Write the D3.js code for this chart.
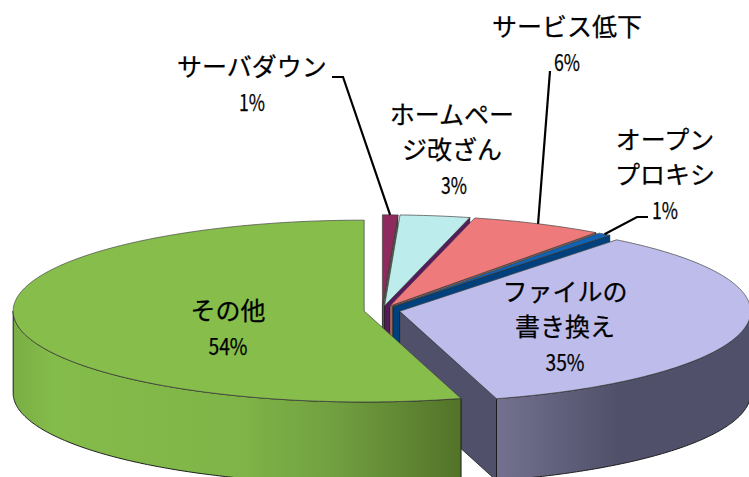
<!DOCTYPE html>
<html lang="ja">
<head>
<meta charset="utf-8">
<script src="https://cdn.jsdelivr.net/npm/d3@7/dist/d3.min.js"></script>
<style>
  html, body { margin: 0; padding: 0; background: #fff; }
  svg { display: block; }
  text { font-family: "Noto Sans CJK JP", sans-serif; fill: #000; stroke: #000; stroke-width: 0.25; text-anchor: middle; }
</style>
</head>
<body>
<svg id="chart" width="749" height="477"></svg>
<script>
// Share of each incident type, clockwise from twelve o'clock
const categories = ["サーバダウン", "ホームページ改ざん", "サービス低下", "オープンプロキシ", "ファイルの書き換え", "その他"];
const shares = [0.7, 3.2, 6.1, 0.6, 34.95, 54.45];

const topColors  = ["#8e2a5e", "#bcecec", "#ef7a7b", "#0f62b4", "#bdbcea", "#86bd4b"];
const wallColors = ["#55584a", "#571a5c", "#9c6a5c", "#00407c", "#50506a", "#50506a"];

// Wrapped label lines per slice
const labelLines = [
  ["サーバダウン"],
  ["ホームペー", "ジ改ざん"],
  ["サービス低下"],
  ["オープン", "プロキシ"],
  ["ファイルの", "書き換え"],
  ["その他"]
];

// Layout of the tilted pie
const cx = 382, cy = 310.4;
const rx = 351, tilt = 0.259, depth = 82, explode = 18;
const fontSize = 25, lineGap = 35;

// Label centre (first line) and leader elbow for each slice
const labelPos = [[252, 67], [452, 115], [567, 27], [665, 140], [565, 292], [228, 311]];
const leaderRoute = [
  [[343, 77], [332, 77]],
  null,
  [[550, 71]],
  [[637, 217], [648, 217]],
  null,
  null
];

const svg = d3.select("#chart");
const defs = svg.append("defs");

function rimGradient(id, x1, x2, stops) {
  const g = defs.append("linearGradient").attr("id", id)
    .attr("gradientUnits", "userSpaceOnUse")
    .attr("x1", x1).attr("x2", x2).attr("y1", 0).attr("y2", 0);
  stops.forEach(([o, c]) => g.append("stop").attr("offset", o).attr("stop-color", c));
}
rimGradient("rim-other", 13, 462, [[0, "#79ae44"], [0.09, "#84bc4a"], [0.5, "#7fb548"], [0.72, "#719f40"], [1, "#527228"]]);
rimGradient("rim-file", 497, 620, [[0, "#73718f"], [1, "#50506a"]]);

const pie = d3.pie().sort(null).startAngle(0).endAngle(2 * Math.PI);
const arcs = pie(shares);
const line = d3.line();

// Apex of an exploded slice on the tilted plane
function apex(a) {
  const mid = (a.startAngle + a.endAngle) / 2;
  return [cx + explode * Math.sin(mid), cy - explode * tilt * Math.cos(mid)];
}
function rimPoint(o, angle, dy = 0) {
  return [o[0] + rx * Math.sin(angle), o[1] - rx * tilt * Math.cos(angle) + dy];
}
function angleSamples(from, to) {
  const n = Math.max(2, Math.ceil(Math.abs(to - from) / 0.01));
  return d3.range(n + 1).map(i => from + (to - from) * i / n);
}

const plot = svg.append("g");

arcs.forEach((a, i) => {
  const o = apex(a);
  const end = rimPoint(o, a.endAngle);
  const g = plot.append("g");

  // Wall along the clockwise cut, facing the viewer when the cut lies on the right half
  if (a.endAngle < Math.PI) {
    g.append("path")
      .attr("d", line([o, end, [end[0], end[1] + depth], [o[0], o[1] + depth]]) + "Z")
      .attr("fill", wallColors[i])
      .attr("stroke", "#1c1c1c").attr("stroke-width", 0.8);
  }

  // Outer rim for the part of the arc nearest the viewer
  const from = Math.max(a.startAngle, Math.PI / 2);
  const to = Math.min(a.endAngle, 3 * Math.PI / 2);
  if (to > from) {
    const upper = angleSamples(from, to).map(t => rimPoint(o, t));
    const lower = angleSamples(to, from).map(t => rimPoint(o, t, depth));
    g.append("path")
      .attr("d", line(upper.concat(lower)) + "Z")
      .attr("fill", i === 4 ? "url(#rim-file)" : "url(#rim-other)")
      .attr("stroke", "#1c1c1c").attr("stroke-width", 1);
  }

  // Top face
  const top = [o].concat(angleSamples(a.startAngle, a.endAngle).map(t => rimPoint(o, t)));
  g.append("path")
    .attr("d", line(top) + "Z")
    .attr("fill", topColors[i])
    .attr("stroke", "#444").attr("stroke-width", 0.7);
});

// Leader lines from the rim out to the outside labels
arcs.forEach((a, i) => {
  if (!leaderRoute[i]) return;
  const start = rimPoint(apex(a), (a.startAngle + a.endAngle) / 2);
  svg.append("path")
    .attr("d", line([start].concat(leaderRoute[i])))
    .attr("fill", "none").attr("stroke", "#000").attr("stroke-width", 2.2);
});

// Category and percentage labels
const pctText = d3.format(".0f");
arcs.forEach((a, i) => {
  const [lx, ly] = labelPos[i];
  labelLines[i].forEach((t, k) => {
    svg.append("text")
      .attr("x", lx).attr("y", ly + k * lineGap)
      .attr("dy", "0.36em")
      .attr("font-size", fontSize)
      .text(t);
  });
  const pct = pctText(Math.round(shares[i])) + "%";
  svg.append("text")
    .attr("x", lx + (i === 1 ? 2 : 0)).attr("y", ly + labelLines[i].length * lineGap + 0.5)
    .attr("dy", "0.36em")
    .attr("font-size", 23)
    .attr("textLength", pct.length * 13)
    .attr("lengthAdjust", "spacingAndGlyphs")
    .text(pct);
});
</script>
</body>
</html>
